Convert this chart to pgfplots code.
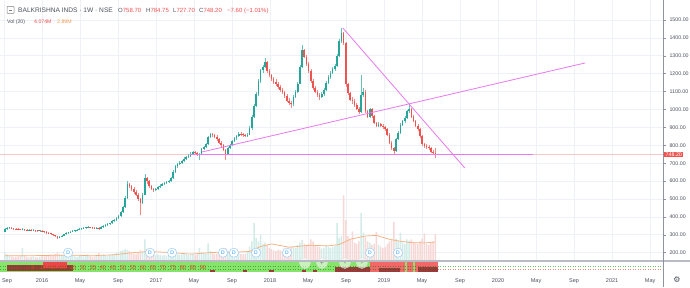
\documentclass[border=0pt]{standalone}
\usepackage{pgfplots}
\pgfplotsset{compat=1.18}
\usepackage{pgfplotstable}
\usepackage{fontspec}
\setmainfont{Liberation Sans}
\newfontfamily\djv{DejaVu Sans}
\definecolor{up}{HTML}{26A69A}
\definecolor{dn}{HTML}{EF5350}
\definecolor{upv}{HTML}{D3ECE7}
\definecolor{dnv}{HTML}{F6D9D7}
\definecolor{gridc}{HTML}{EEF1F6}
\definecolor{labc}{HTML}{4C525E}
\definecolor{trend}{HTML}{E879F0}
\definecolor{lastp}{HTML}{F7C6C6}
\definecolor{sepc}{HTML}{B8BBC3}
\definecolor{axc}{HTML}{8F939C}
\definecolor{bandg}{HTML}{86E46C}
\definecolor{bandr}{HTML}{F26868}
\definecolor{bandd}{HTML}{9C3A3A}
\definecolor{bandb}{HTML}{E84848}
\definecolor{numc}{HTML}{E0401F}
\definecolor{dblue}{HTML}{2196F3}
\definecolor{dring}{HTML}{A8D1F7}
\definecolor{mac}{HTML}{F6AE7C}
\definecolor{volo}{HTML}{F59A4E}

\pgfplotstableread{
i o h l c v
0 318 338 314 330 1.3
1 330 345 326 338 1.0
2 338 346 333 340 0.8
3 340 344 331 336 0.7
4 336 340 328 333 0.6
5 333 338 327 331 0.6
6 331 336 325 330 0.7
7 330 334 324 329 0.8
8 329 337 325 330 2.0
9 330 333 322 327 0.9
10 327 331 321 326 0.6
11 326 332 322 327 0.5
12 327 330 319 324 0.6
13 324 330 320 325 0.7
14 325 328 317 322 0.6
15 322 327 316 321 0.5
16 321 328 318 323 0.6
17 323 326 314 319 0.8
18 319 322 311 316 0.7
19 316 319 307 312 0.9
20 312 316 303 308 0.8
21 308 311 298 303 1.0
22 303 307 293 298 0.9
23 298 301 287 292 1.1
24 292 296 276 284 1.3
25 284 293 280 288 1.0
26 288 300 285 296 0.9
27 296 306 292 302 0.8
28 302 314 299 310 1.0
29 310 317 306 313 0.7
30 313 322 309 318 0.8
31 318 326 314 322 0.9
32 322 329 318 325 0.7
33 325 331 320 327 0.6
34 327 337 324 333 0.9
35 333 339 329 335 0.8
36 335 342 331 338 0.7
37 338 345 334 340 0.8
38 340 348 336 343 1.0
39 343 346 336 341 0.7
40 341 344 334 339 0.6
41 339 342 331 336 0.7
42 336 342 332 338 0.8
43 338 341 329 335 1.2
44 335 348 333 344 0.9
45 344 355 340 350 1.0
46 350 360 346 356 0.9
47 356 364 351 360 0.8
48 360 368 355 364 0.9
49 364 380 360 375 1.1
50 375 388 370 383 1.0
51 383 397 378 392 1.2
52 392 412 388 405 1.3
53 405 435 400 428 1.5
54 428 462 424 455 1.6
55 455 515 450 505 1.8
56 505 600 500 585 1.7
57 585 592 560 570 1.5
58 570 578 545 555 1.2
59 555 565 530 540 1.1
60 540 548 515 525 1.0
61 525 535 490 500 1.2
62 500 505 412 478 1.6
63 478 532 470 525 1.4
64 525 638 520 615 3.3
65 615 625 585 598 1.8
66 598 605 560 570 1.3
67 570 578 548 556 1.1
68 556 562 540 550 1.0
69 550 563 545 556 0.9
70 556 572 550 565 1.0
71 565 582 560 575 0.9
72 575 590 570 582 0.8
73 582 595 576 588 0.9
74 588 600 582 594 0.8
75 594 605 588 598 0.9
76 598 622 594 615 1.1
77 615 660 610 652 1.3
78 652 690 645 682 1.2
79 682 700 675 694 1.0
80 694 710 688 702 0.9
81 702 720 696 712 1.0
82 712 732 706 726 1.1
83 726 740 720 734 1.0
84 734 750 728 742 0.9
85 742 760 736 752 1.0
86 752 768 746 760 1.1
87 760 766 748 755 0.9
88 755 760 740 750 1.0
89 750 758 718 752 2.0
90 752 785 748 778 1.4
91 778 798 772 790 1.2
92 790 812 784 805 1.1
93 805 852 800 846 2.7
94 846 870 840 862 1.5
95 862 868 848 856 1.2
96 856 862 840 848 1.0
97 848 855 826 834 1.1
98 834 842 808 815 1.2
99 815 822 792 800 1.4
100 800 806 768 776 1.5
101 776 782 718 752 2.0
102 752 792 746 785 1.6
103 785 808 780 800 1.3
104 800 830 796 822 1.2
105 822 845 816 838 1.1
106 838 860 832 852 1.2
107 852 872 846 864 1.3
108 864 872 852 862 1.1
109 862 868 848 858 1.0
110 858 865 845 852 1.1
111 852 868 846 860 1.3
112 860 905 855 895 2.2
113 895 970 888 960 3.0
114 960 1030 950 1020 5.8
115 1020 1095 1012 1085 3.5
116 1085 1170 1078 1160 3.0
117 1160 1228 1150 1220 4.0
118 1220 1250 1205 1240 2.6
119 1240 1290 1230 1265 2.8
120 1265 1272 1205 1215 2.5
121 1215 1225 1180 1190 2.0
122 1190 1200 1160 1170 1.8
123 1170 1182 1145 1155 1.6
124 1155 1168 1130 1140 1.5
125 1140 1152 1115 1125 1.7
126 1125 1138 1100 1110 1.6
127 1110 1122 1085 1095 1.5
128 1095 1105 1065 1075 1.8
129 1075 1085 1040 1050 2.0
130 1050 1062 1025 1035 1.8
131 1035 1045 1008 1030 2.1
132 1030 1080 1022 1070 2.2
133 1070 1110 1062 1100 2.0
134 1100 1155 1092 1145 2.4
135 1145 1250 1140 1240 2.8
136 1240 1360 1232 1330 3.2
137 1330 1340 1285 1295 2.6
138 1295 1305 1245 1255 2.4
139 1255 1265 1205 1215 2.6
140 1215 1225 1150 1160 3.3
141 1160 1170 1110 1120 3.0
142 1120 1130 1090 1100 2.4
143 1100 1110 1070 1080 2.2
144 1080 1090 1055 1070 2.1
145 1070 1095 1062 1085 1.9
146 1085 1120 1078 1110 2.0
147 1110 1160 1102 1150 2.3
148 1150 1190 1142 1180 2.2
149 1180 1215 1172 1205 2.0
150 1205 1235 1196 1225 2.1
151 1225 1255 1215 1245 2.3
152 1245 1312 1238 1300 5.8
153 1300 1392 1292 1380 3.5
154 1380 1455 1370 1425 3.8
155 1425 1432 1360 1370 10.0
156 1370 1378 1125 1140 6.2
157 1140 1150 1080 1090 3.8
158 1090 1100 1045 1055 3.2
159 1055 1070 1030 1045 4.5
160 1045 1058 1015 1025 2.8
161 1025 1035 995 1005 2.6
162 1005 1015 975 985 3.0
163 985 1193 980 1080 7.3
164 1080 1120 1070 1100 4.3
165 1100 1108 980 990 3.6
166 990 998 950 960 3.0
167 960 1010 952 1000 2.8
168 1000 1008 955 965 2.4
169 965 972 918 925 2.6
170 925 932 900 910 4.4
171 910 928 904 920 2.5
172 920 925 902 910 2.2
173 910 918 893 900 2.0
174 900 908 882 890 2.1
175 890 896 852 860 2.6
176 860 866 806 815 3.0
177 815 822 776 785 3.2
178 785 792 746 770 5.9
179 770 842 765 835 3.4
180 835 878 828 870 3.0
181 870 922 862 915 4.3
182 915 942 908 935 2.8
183 935 962 926 955 2.6
184 955 996 948 990 3.3
185 990 1025 982 1000 3.1
186 1000 1006 952 960 3.3
187 960 968 928 935 2.9
188 935 942 902 910 2.7
189 910 918 882 890 2.6
190 890 896 842 850 3.0
191 850 856 798 805 3.4
192 805 812 786 795 4.2
193 795 808 780 790 2.6
194 790 800 776 785 2.4
195 785 792 756 765 2.8
196 765 776 748 757 3.0
197 758.7 784.75 727.7 748.2 4.074
}\price

\pgfplotsset{
  chartbox/.style={at={(0pt,26pt)}, anchor=south west, scale only axis,
    width=663pt, height=261pt, xmin=-2.27, xmax=301.2},
  candle/.style n args={3}{draw=none, mark=none,
    restrict expr to domain={#1}{#2:100000},
    error bars/.cd, y dir=plus, y explicit, error mark=none,
    error bar style={#3}},
}

\begin{document}
\begin{tikzpicture}
\useasboundingbox (0pt,0pt) rectangle (690pt,287pt);
\fill[white] (0pt,0pt) rectangle (690pt,287pt);

% ---------- grid + price scale ----------
\begin{axis}[chartbox,
  ymin=153.6, ymax=1611.7,
  axis line style={draw=none},
  xtick={-0.42,16.96,34.34,51.76,69.14,86.5,103.9,121.3,138.7,156.1,173.5,190.9,208.3,225.7,243.1,260.5,277.9,295.3},
  xticklabels={}, xtick style={draw=none}, xtick pos=left,
  ytick={200,300,...,1500}, ytick pos=right, yticklabel pos=right,
  ytick style={draw=axc, line width=0.5pt},
  tick align=outside, major tick length=3pt,
  scaled y ticks=false,
  yticklabel style={font=\fontsize{5.3}{6}\selectfont, text=labc,
    /pgf/number format/fixed, /pgf/number format/fixed zerofill,
    /pgf/number format/precision=2, /pgf/number format/1000 sep={},
    /pgf/number format/assume math mode=true},
  grid=major, major grid style={draw=gridc, line width=0.6pt},
]
\end{axis}

% ---------- volume ----------
\begin{axis}[chartbox, ymin=0, ymax=39.7, hide axis]
\addplot[ybar, bar width=1.5pt, bar shift=0pt, fill=upv, draw=none,
  restrict expr to domain={\thisrow{c}-\thisrow{o}}{0:100000}]
  table[x=i, y=v] {\price};
\addplot[ybar, bar width=1.5pt, bar shift=0pt, fill=dnv, draw=none,
  restrict expr to domain={\thisrow{o}-\thisrow{c}}{0.0001:100000}]
  table[x=i, y=v] {\price};
\addplot[sharp plot, mac, line width=0.7pt, mark=none] coordinates {
(0,0.8) (10,0.8) (20,0.85) (30,0.9) (40,0.8) (50,0.95) (58,1.25) (66,1.45)
(75,1.3) (85,1.05) (95,1.3) (105,1.35) (112,1.45) (117,2.2) (122,2.6)
(130,2.1) (140,2.4) (148,2.3) (153,2.5) (158,3.3) (165,3.8) (170,3.9)
(176,3.3) (181,3.0) (186,2.8) (192,2.75) (197,2.89)};
\end{axis}

% ---------- indicator pane + time scale ----------
\begin{axis}[at={(0pt,14pt)}, anchor=south west, scale only axis,
  width=663pt, height=12pt, xmin=-2.27, xmax=301.2, ymin=0, ymax=12,
  axis line style={draw=none}, clip=false,
  ytick=\empty,
  xtick={0.9,16.96,34.34,51.76,69.14,86.5,103.9,121.3,138.7,156.1,173.5,190.9,208.3,225.7,243.1,260.5,277.9,295.3},
  xticklabels={Sep,2016,May,Sep,2017,May,Sep,2018,May,Sep,2019,May,Sep,2020,May,Sep,2021,May},
  xtick style={draw=none},
  xticklabel style={font=\fontsize{5.5}{6}\selectfont, text=labc, anchor=base, yshift=-9.5pt},
]
\addplot[fill=bandg, draw=none] coordinates {(-2.27,1) (-2.27,11) (167.1,11) (167.1,1)} -- cycle;
\addplot[fill=bandr, draw=none] coordinates {(167.1,1) (167.1,11) (198,11) (198,1)} -- cycle;
\addplot[fill=bandg, draw=none] coordinates {(183.1,1) (183.1,11) (184.0,11) (184.0,1)} -- cycle;
\addplot[fill=bandg, draw=none] coordinates {(186.7,1) (186.7,11) (187.7,11) (187.7,1)} -- cycle;
\addplot[fill=bandd, draw=none] coordinates {(0.9,2.5) (0.9,8.5) (31.1,8.5) (31.1,2.5)} -- cycle;
\addplot[fill=bandb, draw=none] coordinates {(17.4,5) (17.4,11) (28.4,11) (28.4,5)} -- cycle;
\addplot[fill=bandd, draw=none] coordinates {(151,1) (151,6) (167.1,6) (167.1,1)} -- cycle;
\addplot[fill=bandd, draw=none] coordinates {(171,1) (171,5) (181,5) (181,1)} -- cycle;
\addplot[fill=bandd, draw=none] coordinates {(189,1) (189,6) (198,6) (198,1)} -- cycle;
\addplot[fill=bandd, draw=none] coordinates {(94,1) (94,3) (96,3) (96,1)} -- cycle;
\addplot[fill=bandd, draw=none] coordinates {(109,1) (109,3) (111,3) (111,1)} -- cycle;
\addplot[fill=bandd, draw=none] coordinates {(121,1) (121,3) (123,3) (123,1)} -- cycle;
\addplot[fill=bandd, draw=none] coordinates {(136,1) (136,3.5) (138,3.5) (138,1)} -- cycle;
\addplot[fill=bandd, draw=none] coordinates {(141,1) (141,3) (143,3) (143,1)} -- cycle;
\addplot[green!45!black, opacity=0.5, dotted, line width=0.5pt] coordinates {(-2.27,7) (198,7)};
\addplot[green!45!black, opacity=0.5, dotted, line width=0.5pt] coordinates {(-2.27,4) (198,4)};
\addplot[green!60!black!60, dotted, line width=0.5pt] coordinates {(198,7) (301.2,7)};
\addplot[dn!70, dotted, line width=0.5pt] coordinates {(198,4) (301.2,4)};
\addplot[draw=none, mark=none, point meta=explicit symbolic,
  nodes near coords, nodes near coords align=center,
  every node near coord/.append style={font=\fontsize{5.6}{6}\selectfont, text=numc, inner sep=0pt}]
  coordinates {(12.84,5.5) [5] (17.42,5.5) [10] (21.99,5.5) [15] (26.57,5.5) [20]
  (31.15,5.5) [25] (35.72,5.5) [30] (40.30,5.5) [35] (44.87,5.5) [40]
  (49.45,5.5) [45] (54.03,5.5) [50] (58.60,5.5) [55] (63.18,5.5) [60]
  (67.76,5.5) [65] (72.33,5.5) [70] (76.91,5.5) [75] (81.49,5.5) [80]
  (86.06,5.5) [85] (90.64,5.5) [90]};
% chart navigation buttons
\addplot[only marks, mark=*, mark size=5.5pt,
  mark options={fill=white, fill opacity=0.55, draw=gray!25, line width=0.4pt}]
  coordinates {(137.3,10) (145.1,10) (155.6,10) (163.4,10)};
\addplot[only marks, mark=text, text mark={−}, text mark as node=true,
  text mark style={font=\fontsize{7}{7}\selectfont, text=gray}] coordinates {(137.3,10)};
\addplot[only marks, mark=text, text mark={+}, text mark as node=true,
  text mark style={font=\fontsize{7}{7}\selectfont, text=gray}] coordinates {(145.1,10)};
\addplot[only marks, mark=text, text mark={‹}, text mark as node=true,
  text mark style={font=\fontsize{8}{8}\selectfont, text=gray}] coordinates {(155.6,10)};
\addplot[only marks, mark=text, text mark={›}, text mark as node=true,
  text mark style={font=\fontsize{8}{8}\selectfont, text=gray}] coordinates {(163.4,10)};
\end{axis}

% ---------- candles, drawings ----------
\begin{axis}[chartbox, ymin=153.6, ymax=1611.7, hide axis, clip=false]
\addplot[lastp, line width=0.6pt] coordinates {(-2.27,748.2) (301.2,748.2)};
% wicks
\addplot[candle={\thisrow{c}-\thisrow{o}}{0}{draw=up!70, line width=0.5pt}]
  table[x=i, y=l, y error expr={\thisrow{h}-\thisrow{l}}] {\price};
\addplot[candle={\thisrow{o}-\thisrow{c}}{0.0001}{draw=dn!70, line width=0.5pt}]
  table[x=i, y=l, y error expr={\thisrow{h}-\thisrow{l}}] {\price};
% bodies
\addplot[candle={\thisrow{c}-\thisrow{o}}{0}{draw=up, line width=1.6pt}]
  table[x=i, y expr={min(\thisrow{o},\thisrow{c})}, y error expr={max(abs(\thisrow{c}-\thisrow{o}),3)}] {\price};
\addplot[candle={\thisrow{o}-\thisrow{c}}{0.0001}{draw=dn, line width=1.6pt}]
  table[x=i, y expr={min(\thisrow{o},\thisrow{c})}, y error expr={max(abs(\thisrow{c}-\thisrow{o}),3)}] {\price};
% trend lines
\addplot[trend, line width=0.8pt] coordinates {(84.7,748) (241.7,748)};
\addplot[trend, line width=0.8pt] coordinates {(90.2,762.6) (265.5,1259.8)};
\addplot[trend, line width=0.8pt] coordinates {(154.7,1455) (210.5,673)};
% dividend markers
\addplot[only marks, mark=*, mark size=4.6pt,
  mark options={fill=white, draw=dring, line width=0.6pt}]
  coordinates {(28.9,200) (66.4,200) (76.5,200) (99.8,200) (104.8,200) (114.9,200) (129.1,200) (167.1,200) (179.9,200)};
\addplot[only marks, mark=text, text mark={D}, text mark as node=true,
  text mark style={font=\fontsize{5}{5}\selectfont, text=dblue}]
  coordinates {(28.9,200) (66.4,200) (76.5,200) (99.8,200) (104.8,200) (114.9,200) (129.1,200) (167.1,200) (179.9,200)};
% last price tag
\node[fill=dn, text=white, anchor=west, inner xsep=1.5pt, inner ysep=1pt,
  font=\fontsize{5.3}{6}\selectfont, xshift=1pt] at (axis cs:301.2,748.2) {748.20};
\end{axis}

% ---------- separators ----------
\draw[sepc, line width=1.2pt] (0pt,26pt) -- (690pt,26pt);
\draw[axc, line width=0.7pt] (663pt,0pt) -- (663pt,287pt);

% ---------- legend header ----------
\draw[gray, line width=0.5pt, rounded corners=0.8pt] (7pt,280.5pt) rectangle (14pt,273.5pt);
\draw[gray, line width=0.5pt] (8.8pt,277pt) -- (12.2pt,277pt);
\node[anchor=base west, inner sep=0pt, font=\fontsize{6.6}{7}\selectfont, text=labc]
  at (18pt,274.5pt) {BALKRISHNA INDS · 1W · NSE};
\node[anchor=base west, inner sep=0pt, font=\fontsize{6}{7}\selectfont, text=labc]
  at (118pt,274.5pt) {O\textcolor{dn}{758.70}};
\node[anchor=base west, inner sep=0pt, font=\fontsize{6}{7}\selectfont, text=labc]
  at (146pt,274.5pt) {H\textcolor{dn}{784.75}};
\node[anchor=base west, inner sep=0pt, font=\fontsize{6}{7}\selectfont, text=labc]
  at (173pt,274.5pt) {L\textcolor{dn}{727.70}};
\node[anchor=base west, inner sep=0pt, font=\fontsize{6}{7}\selectfont, text=labc]
  at (199pt,274.5pt) {C\textcolor{dn}{748.20}};
\node[anchor=base west, inner sep=0pt, font=\fontsize{6}{7}\selectfont, text=dn]
  at (227pt,274.5pt) {−7.60 (−1.01\%)};
\node[anchor=base west, inner sep=0pt, font=\fontsize{5.2}{6}\selectfont, text=labc]
  at (7pt,263.5pt) {Vol (20)};
\node[anchor=base west, inner sep=0pt, font=\fontsize{5.2}{6}\selectfont, text=dn]
  at (34pt,263.5pt) {4.074M};
\node[anchor=base west, inner sep=0pt, font=\fontsize{5.2}{6}\selectfont, text=volo]
  at (57pt,263.5pt) {2.89M};
% settings icon
\node[font=\djv\fontsize{8}{8}\selectfont, text=labc, inner sep=0pt] at (677pt,7pt) {⚙};
\end{tikzpicture}
\end{document}
